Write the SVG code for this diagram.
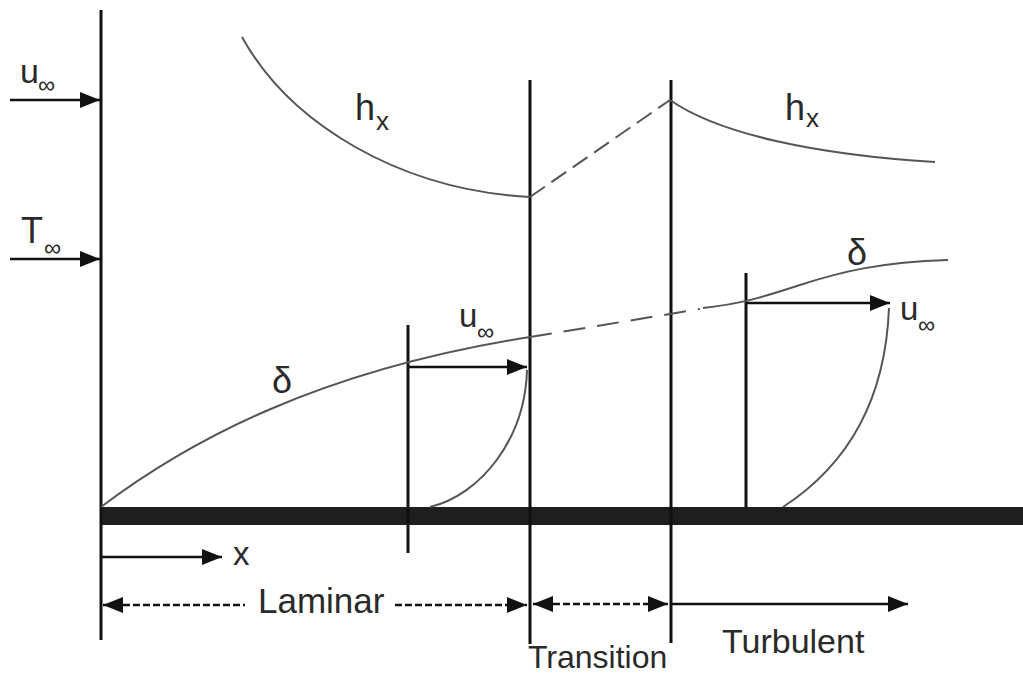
<svg xmlns="http://www.w3.org/2000/svg" width="1023" height="675" viewBox="0 0 1023 675">
<defs>
<marker id="ah" markerUnits="userSpaceOnUse" markerWidth="20" markerHeight="16" refX="20" refY="8" orient="auto-start-reverse">
<path d="M0,0 L20,8 L0,16 z" fill="#111"/>
</marker>
<style>
.ln{stroke:#111;stroke-width:3;fill:none}
.ar{stroke:#111;stroke-width:2.5;fill:none}
.da{stroke-dasharray:7,3}
.cv{stroke:#555;stroke-width:2;fill:none}
.dsh{stroke:#555;stroke-width:2;fill:none;stroke-dasharray:22,12}
.t{font-family:"Liberation Sans",Arial,sans-serif;fill:#2a2a2a}
</style>
</defs>
<rect width="1023" height="675" fill="#fff"/>
<g id="plate">
<rect x="100" y="507" width="923" height="18" fill="#1e1e1e"/>
</g>
<g id="verticals">
<line class="ln" x1="101" y1="10" x2="101" y2="640"/>
<line class="ln" x1="530" y1="80" x2="530" y2="644"/>
<line class="ln" x1="671" y1="80" x2="671" y2="643"/>
<line class="ln" x1="408" y1="325" x2="408" y2="553"/>
<line class="ln" x1="746" y1="273" x2="746" y2="507"/>
</g>
<g id="curves">
<path class="cv" d="M242,37 C290,124 400,190 530,197"/>
<path class="cv" d="M530,197 L670,100" style="stroke-dasharray:18,8"/>
<path class="cv" d="M670,100 C720,135 820,155 935,162"/>
<path class="cv" d="M101,507 C190,440 320,370 530,337"/>
<path class="dsh" d="M530,337 L700,309"/>
<path class="cv" d="M703,308 C740,304 760,298 800,285 S880,262 948,260"/>
<path class="cv" d="M430,507 C480,495 525,440 527,370"/>
<path class="cv" d="M783,507 C840,470 885,410 889,308"/>
</g>
<g id="connectors">
<path class="ar" d="M10,100 H100" marker-end="url(#ah)"/>
<path class="ar" d="M10,259 H100" marker-end="url(#ah)"/>
<path class="ar" d="M408,367 H527" marker-end="url(#ah)"/>
<path class="ar" d="M746,303 H890" marker-end="url(#ah)"/>
<path class="ar" d="M101,557 H222" marker-end="url(#ah)"/>
<path class="ar da" d="M103,605 H245" marker-start="url(#ah)"/>
<path class="ar da" d="M395,605 H527" marker-end="url(#ah)"/>
<path class="ar da" d="M533,604 H668" marker-start="url(#ah)" marker-end="url(#ah)"/>
<path class="ar" d="M672,604 H908" marker-end="url(#ah)"/>
</g>
<g id="labels">
<text class="t" font-size="34" x="20" y="83">u<tspan font-size="24" x="38" y="93">∞</tspan></text>
<text class="t" font-size="36" x="21" y="243">T<tspan font-size="24" x="44" y="256">∞</tspan></text>
<text class="t" font-size="36" x="355" y="120">h<tspan font-size="26" x="376" y="130">x</tspan></text>
<text class="t" font-size="36" x="785" y="120">h<tspan font-size="26" x="806" y="127">x</tspan></text>
<text class="t" font-size="36" x="272" y="393">δ</text>
<text class="t" font-size="36" x="847" y="265">δ</text>
<text class="t" font-size="33" x="459" y="327">u<tspan font-size="24" x="477" y="340">∞</tspan></text>
<text class="t" font-size="33" x="900" y="320">u<tspan font-size="24" x="918" y="333">∞</tspan></text>
<text class="t" font-size="33" x="233" y="565">x</text>
<text class="t" font-size="35" x="258" y="613">Laminar</text>
<text class="t" font-size="32" x="528" y="668">Transition</text>
<text class="t" font-size="34" x="722" y="653">Turbulent</text>
</g>
</svg>
